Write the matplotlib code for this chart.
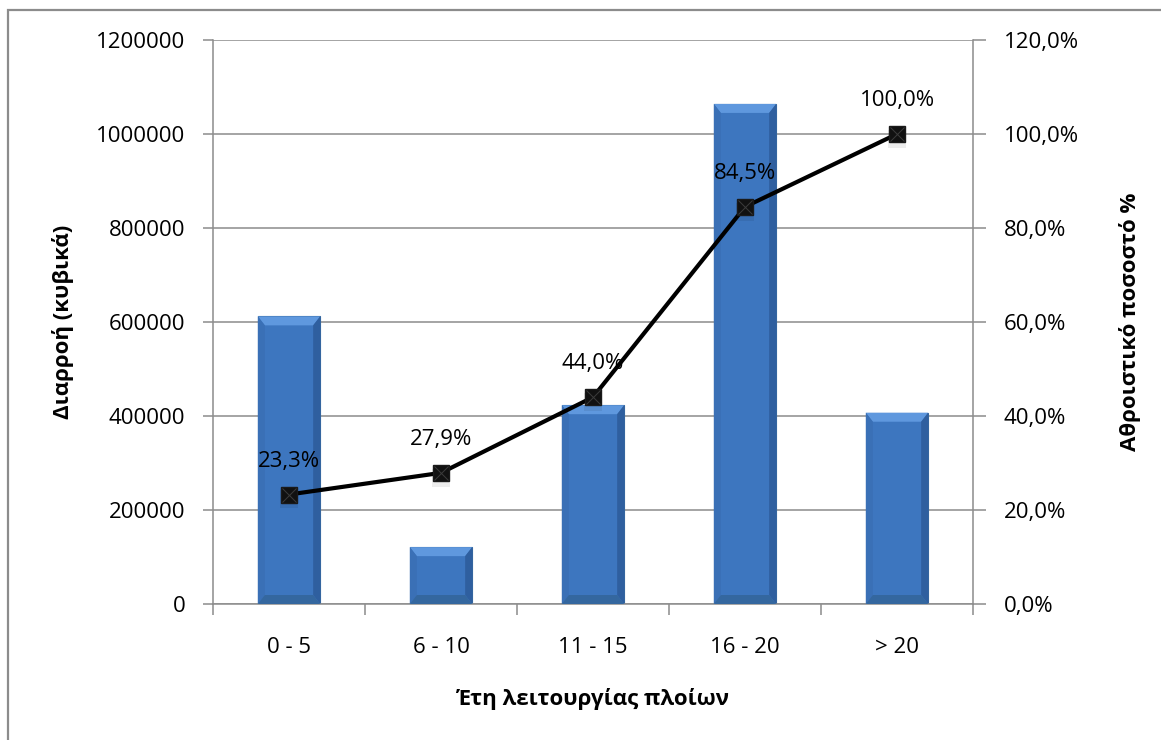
import matplotlib
matplotlib.use("Agg")
import matplotlib.pyplot as plt
from matplotlib.patches import Polygon, Rectangle

plt.rcParams['font.family'] = ['Open Sans', 'DejaVu Sans']

# ηλικία πλοίων (έτη) και διαρροή σε κυβικά
categories = ['0 - 5', '6 - 10', '11 - 15', '16 - 20', '> 20']
leakage = [612000, 121000, 423000, 1064000, 407000]

left_ticks = [0, 200000, 400000, 600000, 800000, 1000000, 1200000]
right_ticks = [0, 20, 40, 60, 80, 100, 120]

# αθροιστικό ποσοστό
total = sum(leakage)
cumulative = []
running = 0
for v in leakage:
    running += v
    cumulative.append(running / total * 100)

fig = plt.figure(figsize=(11.61, 7.40), dpi=100)
ax = fig.add_axes([213 / 1161, 1 - 604 / 740, 760 / 1161, 564 / 740])

# εξωτερικό πλαίσιο
fig.patches.append(Rectangle((8 / 1161, -0.1), 1.2, 1 - 10 / 740 + 0.1,
                             transform=fig.transFigure, fill=False,
                             edgecolor='#8c8c8c', linewidth=1.6, zorder=0))

x = list(range(len(categories)))
ax.set_xlim(-0.5, len(categories) - 0.5)
ax.set_ylim(0, 1200000)

# μπάρες με ανάγλυφο περίγραμμα
half = 0.205
px_x = len(categories) / 760.0
px_y = 1200000 / 564.0
bx = 7 * px_x
by = 9 * px_y
for c, h in zip(x, leakage):
    l, r = c - half, c + half
    ax.add_patch(Polygon([(l, 0), (r, 0), (r, h), (l, h)], closed=True,
                         facecolor='#3d76bf', edgecolor='#35679f', linewidth=0.8, zorder=2))
    ax.add_patch(Polygon([(l, h), (r, h), (r - bx, h - by), (l + bx, h - by)],
                         closed=True, facecolor='#5f98de', edgecolor='none', zorder=3))
    ax.add_patch(Polygon([(l, 0), (l, h), (l + bx, h - by), (l + bx, by)],
                         closed=True, facecolor='#3a70b6', edgecolor='none', zorder=3))
    ax.add_patch(Polygon([(r, 0), (r, h), (r - bx, h - by), (r - bx, by)],
                         closed=True, facecolor='#2f5f9f', edgecolor='none', zorder=3))
    ax.add_patch(Polygon([(l, 0), (r, 0), (r - bx, by), (l + bx, by)],
                         closed=True, facecolor='#34679f', edgecolor='none', zorder=3))

ax.set_yticks(left_ticks)
ax.set_yticklabels([str(t) for t in left_ticks], fontsize=16)
ax.yaxis.grid(True, color='#8c8c8c', linewidth=1.1)
ax.set_axisbelow(True)

ax.set_xticks(x)
ax.set_xticklabels(categories, fontsize=16)
ax.set_xticks([i + 0.5 for i in range(-1, len(categories))], minor=True)
ax.tick_params(axis='x', which='major', length=0, pad=24)
ax.tick_params(axis='x', which='minor', length=8, width=1.1, color='#8c8c8c', direction='out')
ax.tick_params(axis='y', length=7, width=1.1, color='#8c8c8c', pad=13)

for side in ['top', 'right']:
    ax.spines[side].set_visible(False)
for side in ['left', 'bottom']:
    ax.spines[side].set_color('#8c8c8c')
    ax.spines[side].set_linewidth(1.1)

ax.set_ylabel('Διαρροή (κυβικά)', fontsize=16, fontweight='bold', labelpad=16)
ax.set_xlabel('Έτη λειτουργίας πλοίων', fontsize=16, fontweight='bold', labelpad=21)

# δευτερεύων άξονας: αθροιστικό ποσοστό
ax2 = ax.twinx()
ax2.set_ylim(0, 120)
ax2.set_yticks(right_ticks)
ax2.set_yticklabels([f'{t:.1f}%'.replace('.', ',') for t in right_ticks], fontsize=16)
ax2.tick_params(axis='y', length=9, width=1.1, color='#8c8c8c', pad=13)
for side in ['top', 'left', 'bottom']:
    ax2.spines[side].set_visible(False)
ax2.spines['right'].set_color('#8c8c8c')
ax2.spines['right'].set_linewidth(1.1)
ax2.set_ylabel('Αθροιστικό ποσοστό %', fontsize=16, fontweight='bold',
               rotation=90, labelpad=29)

# σκιά δεικτών
ax2.plot(x, [v - 1.0 for v in cumulative], linestyle='none', marker='s', markersize=13,
         color='#000000', alpha=0.07, markeredgewidth=0, zorder=3)
ax2.plot(x, cumulative, color='black', linewidth=3, marker='s', markersize=11,
         markerfacecolor='#111111', markeredgecolor='#1a1a1a', zorder=4)
ax2.plot(x, cumulative, linestyle='none', marker='x', markersize=10,
         markeredgecolor='#3c3c3c', markeredgewidth=0.7, zorder=5)

for c, v in zip(x, cumulative):
    ax2.annotate(f'{v:.1f}%'.replace('.', ','), (c, v), xytext=(0, 24),
                 textcoords='offset points', ha='center', va='center', fontsize=16)

fig.savefig('out.png', dpi=100)
